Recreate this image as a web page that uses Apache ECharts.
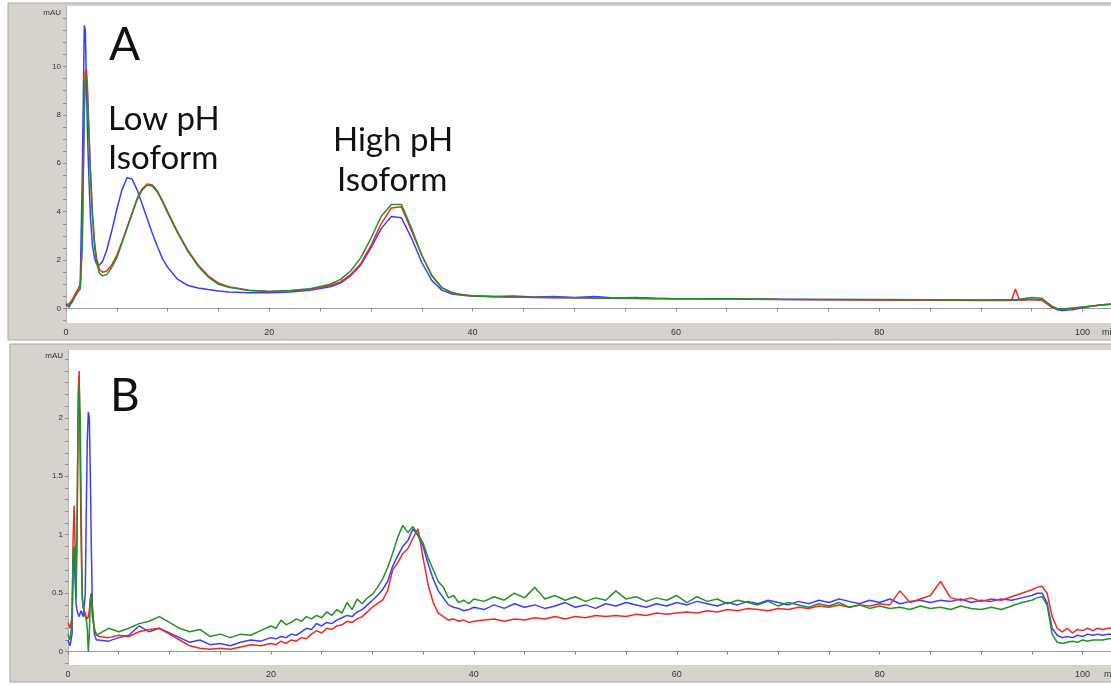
<!DOCTYPE html>
<html>
<head>
<meta charset="utf-8">
<script src="https://cdn.jsdelivr.net/npm/echarts@6/dist/echarts.min.js"></script>
<style>
  html, body { margin: 0; padding: 0; background: #fff; }
  #chart { width: 1111px; height: 685px; }
</style>
</head>
<body>
<div id="chart"></div>
<script>
// ---- panel A (retention time, min) ----
const timeA = [0, 0.3, 0.6, 0.9, 1.2, 1.4, 1.6, 1.8, 1.9, 2.0, 2.1, 2.2, 2.4, 2.6, 2.8, 3.0, 3.3, 3.6, 4.0, 4.5,
  5, 5.5, 6, 6.5, 7, 7.5, 8, 8.5, 9, 9.5, 10, 11, 12, 13, 14, 15, 16, 18, 20, 22,
  24, 26, 27, 28, 29, 30, 31, 32, 33, 34, 35, 36, 37, 38, 39, 40, 42, 44, 46, 48,
  50, 52, 54, 56, 58, 60, 65, 70, 75, 80, 85, 90, 92, 93, 93.4, 93.8, 95, 96, 96.5, 97,
  97.5, 98, 99, 100, 101, 102, 103];
const blueA = [0.2, 0.05, 0.3, 0.55, 0.8, 1.0, 5.5, 11.7, 11.5, 9.5, 7.5, 6.0, 3.8, 2.6, 2.1, 1.85, 1.8, 1.95, 2.4, 3.2,
  4.1, 4.9, 5.4, 5.35, 4.9, 4.3, 3.7, 3.1, 2.55, 2.05, 1.7, 1.2, 0.95, 0.85, 0.78, 0.72, 0.68, 0.65, 0.65, 0.68,
  0.75, 0.9, 1.05, 1.35, 1.8, 2.5, 3.3, 3.8, 3.75, 2.9, 1.9, 1.15, 0.75, 0.6, 0.55, 0.52, 0.5, 0.52, 0.47, 0.5,
  0.45, 0.5, 0.43, 0.45, 0.42, 0.4, 0.39, 0.38, 0.37, 0.36, 0.35, 0.34, 0.34, 0.34, 0.34, 0.35, 0.38, 0.35, 0.2, 0.05,
  -0.05, -0.08, -0.05, 0.03, 0.1, 0.15, 0.18];
const redA = [0.15, 0.2, 0.35, 0.6, 0.8, 0.9, 3.0, 8.5, 9.8, 9.9, 9.3, 8.0, 5.8, 4.0, 2.8, 2.1, 1.6, 1.5, 1.55, 1.8,
  2.2, 2.75, 3.35, 3.95, 4.55, 4.95, 5.15, 5.1, 4.85, 4.45, 4.0, 3.15, 2.4, 1.8, 1.35, 1.05, 0.9, 0.75, 0.7, 0.72,
  0.8, 0.95, 1.1, 1.4, 1.85, 2.6, 3.5, 4.15, 4.2, 3.2, 2.2, 1.35, 0.85, 0.65, 0.57, 0.53, 0.48, 0.47, 0.45, 0.44,
  0.44, 0.42, 0.42, 0.41, 0.4, 0.4, 0.39, 0.37, 0.36, 0.35, 0.34, 0.33, 0.33, 0.33, 0.8, 0.34, 0.37, 0.34, 0.2, 0.05,
  -0.02, -0.03, 0.0, 0.05, 0.1, 0.15, 0.18];
const greenA = [0.1, 0.15, 0.25, 0.5, 0.7, 0.8, 2.5, 8.0, 9.4, 9.6, 9.0, 7.8, 5.6, 3.8, 2.6, 1.9, 1.45, 1.35, 1.4, 1.7,
  2.1, 2.7, 3.3, 3.9, 4.5, 4.9, 5.1, 5.05, 4.8, 4.4, 3.95, 3.1, 2.35, 1.75, 1.3, 1.0, 0.88, 0.74, 0.7, 0.74,
  0.82, 1.0, 1.2, 1.55, 2.1, 2.9, 3.8, 4.3, 4.3, 3.3, 2.2, 1.35, 0.85, 0.65, 0.56, 0.52, 0.5, 0.46, 0.46, 0.45,
  0.44, 0.43, 0.42, 0.42, 0.41, 0.4, 0.4, 0.38, 0.37, 0.37, 0.36, 0.35, 0.36, 0.36, 0.36, 0.38, 0.45, 0.42, 0.25, 0.1,
  0.0, -0.02, 0.02, 0.06, 0.1, 0.15, 0.18];

// ---- panel B ----
const timeB = [0, 0.2, 0.4, 0.5, 0.6, 0.7, 0.8, 0.9, 1.0, 1.1, 1.2, 1.3, 1.4, 1.5, 1.6, 1.7, 1.8, 1.9, 2.0, 2.1,
  2.2, 2.3, 2.4, 2.6, 2.8, 3, 4, 5, 6, 7, 8, 9, 10, 11, 12, 13, 14, 15, 16, 17,
  18, 19, 20, 20.5, 21, 21.5, 22, 22.5, 23, 23.5, 24, 24.5, 25, 25.5, 26, 26.5, 27, 27.5, 28, 28.5,
  29, 29.5, 30, 30.5, 31, 31.5, 32, 32.5, 33, 33.5, 34, 34.5, 35, 35.5, 36, 36.5, 37, 37.5, 38, 38.5,
  39, 39.5, 40, 41, 42, 43, 44, 45, 46, 47, 48, 49, 50, 51, 52, 53, 54, 55, 56, 57,
  58, 59, 60, 61, 62, 63, 64, 65, 66, 67, 68, 69, 70, 71, 72, 73, 74, 75, 76, 77,
  78, 79, 80, 81, 82, 83, 84, 85, 86, 87, 88, 89, 90, 91, 92, 93, 94, 95, 95.5, 96,
  96.5, 97, 97.5, 98, 98.5, 99, 99.5, 100, 100.5, 101, 101.5, 102, 102.5, 103];
const blueB = [0.1, 0.05, 0.15, 0.75, 0.85, 0.6, 0.4, 0.35, 0.32, 0.3, 0.33, 0.35, 0.32, 0.3, 0.3, 0.5, 1.2, 1.8, 2.05, 2.0,
  1.5, 0.9, 0.4, 0.15, 0.1, 0.1, 0.09, 0.12, 0.14, 0.22, 0.17, 0.2, 0.16, 0.12, 0.08, 0.1, 0.06, 0.07, 0.05, 0.08,
  0.1, 0.09, 0.12, 0.11, 0.13, 0.12, 0.15, 0.14, 0.17, 0.2, 0.19, 0.24, 0.22, 0.25, 0.24, 0.27, 0.29, 0.31, 0.3, 0.34,
  0.36, 0.4, 0.44, 0.48, 0.53, 0.6, 0.73, 0.82, 0.9, 0.95, 1.05, 0.99, 0.9, 0.75, 0.62, 0.52, 0.46, 0.4, 0.38, 0.37,
  0.35, 0.36, 0.38, 0.36, 0.4, 0.37, 0.41, 0.38, 0.4, 0.37, 0.39, 0.42, 0.38, 0.4, 0.37, 0.41, 0.39, 0.42, 0.4, 0.38,
  0.41, 0.39, 0.42, 0.4, 0.43, 0.41, 0.39, 0.42, 0.4, 0.43, 0.41, 0.44, 0.42, 0.4, 0.43, 0.41, 0.44, 0.42, 0.45, 0.43,
  0.41, 0.44, 0.42, 0.45, 0.41, 0.43, 0.44, 0.42, 0.44, 0.43, 0.45, 0.42, 0.44, 0.43, 0.45, 0.44, 0.46, 0.48, 0.5, 0.5,
  0.42, 0.2, 0.14, 0.12, 0.13, 0.12, 0.14, 0.13, 0.15, 0.14, 0.15, 0.14, 0.15, 0.15];
const redB = [0.25, 0.2, 0.3, 0.95, 1.25, 0.9, 0.6, 1.0, 2.2, 2.4, 1.6, 0.9, 0.45, 0.38, 0.35, 0.33, 0.3, 0.28, 0.3, 0.35,
  0.45, 0.5, 0.35, 0.18, 0.15, 0.13, 0.12, 0.14, 0.13, 0.17, 0.19, 0.2, 0.15, 0.1, 0.05, 0.03, 0.02, 0.03, 0.02, 0.04,
  0.06, 0.05, 0.07, 0.06, 0.09, 0.07, 0.1, 0.09, 0.12, 0.11, 0.15, 0.18, 0.16, 0.2, 0.19, 0.22, 0.23, 0.26, 0.25, 0.28,
  0.3, 0.34, 0.38, 0.41, 0.44, 0.52, 0.7, 0.76, 0.84, 0.88, 0.97, 1.05, 0.8, 0.57, 0.42, 0.33, 0.3, 0.27, 0.28, 0.26,
  0.27, 0.25, 0.26, 0.27, 0.28, 0.26, 0.28, 0.27, 0.29, 0.28, 0.3, 0.28, 0.3, 0.29, 0.31, 0.3, 0.31, 0.3, 0.32, 0.31,
  0.33, 0.32, 0.33, 0.34, 0.33, 0.35, 0.34, 0.36, 0.35, 0.37, 0.36, 0.35, 0.37, 0.36, 0.38, 0.37, 0.39, 0.38, 0.4, 0.38,
  0.4, 0.39, 0.41, 0.4, 0.52, 0.42, 0.45, 0.48, 0.6, 0.46, 0.44, 0.46, 0.43, 0.45, 0.44, 0.47, 0.5, 0.53, 0.55, 0.56,
  0.5, 0.3, 0.2, 0.17, 0.2, 0.16, 0.19, 0.18, 0.2, 0.18, 0.2, 0.19, 0.2, 0.2];
const greenB = [0.15, 0.1, 0.25, 0.85, 0.9, 0.8, 0.45, 1.2, 2.0, 2.3, 2.0, 1.2, 0.5, 0.38, 0.33, 0.3, 0.28, 0.2, 0.0, 0.15,
  0.45, 0.5, 0.3, 0.2, 0.14, 0.15, 0.2, 0.17, 0.2, 0.24, 0.26, 0.3, 0.25, 0.2, 0.17, 0.19, 0.13, 0.15, 0.12, 0.15,
  0.14, 0.18, 0.22, 0.2, 0.27, 0.23, 0.25, 0.28, 0.26, 0.3, 0.28, 0.31, 0.29, 0.34, 0.31, 0.36, 0.33, 0.42, 0.36, 0.45,
  0.41, 0.46, 0.49, 0.55, 0.62, 0.72, 0.84, 0.98, 1.08, 1.02, 1.07, 1.0, 0.93, 0.8, 0.7, 0.6, 0.55, 0.46, 0.48, 0.42,
  0.44, 0.41, 0.45, 0.43, 0.47, 0.44, 0.5, 0.46, 0.55, 0.45, 0.48, 0.44, 0.47, 0.43, 0.46, 0.44, 0.52, 0.45, 0.47, 0.43,
  0.46, 0.44, 0.48, 0.42, 0.47, 0.43, 0.45, 0.41, 0.44, 0.42, 0.4, 0.43, 0.39, 0.42, 0.4, 0.38, 0.41, 0.39, 0.42, 0.38,
  0.4, 0.37, 0.39, 0.37, 0.38, 0.36, 0.39, 0.37, 0.38, 0.36, 0.39, 0.37, 0.36, 0.38, 0.36, 0.39, 0.42, 0.44, 0.46, 0.47,
  0.4, 0.15, 0.08, 0.07, 0.08, 0.09, 0.08, 0.1, 0.09, 0.1, 0.1, 0.1, 0.11, 0.11];

const xLabels = [0, 20, 40, 60, 80, 100];
const xTicks = [0, 5, 10, 15, 20, 25, 30, 35, 40, 45, 50, 55, 60, 65, 70, 75, 80, 85, 90, 95, 100];
const yLabelsA = [0, 2, 4, 6, 8, 10, 12.2];
const yLabelsB = [0, 0.5, 1, 1.5, 2, 2.53];

const blue = '#3d3dff';
const red = '#f02828';
const green = '#23902a';
const frame = '#d6d3ce';

function pairs(t, v) {
  return t.map((x, i) => [x, v[i]]);
}
function steps(from, to, step) {
  const out = [];
  for (let k = Math.round(from / step); k * step <= to + 1e-9; k++) out.push(+(k * step).toFixed(2));
  return out;
}

function xAxisFor(gridIndex) {
  return {
    type: 'value',
    gridIndex: gridIndex,
    min: 0,
    max: 102.8,
    axisLine: { show: true, lineStyle: { color: '#9a9a9a', width: 1 } },
    axisTick: { show: true, customValues: xTicks, length: 3, lineStyle: { color: '#8c8c8c' } },
    axisLabel: { customValues: xLabels, color: '#333', fontSize: 9, fontFamily: 'Liberation Sans', margin: 5 },
    splitLine: { show: false }
  };
}
function yAxisFor(gridIndex, min, max, labels, ticks, top) {
  return {
    type: 'value',
    gridIndex: gridIndex,
    min: min,
    max: max,
    axisLine: { show: true, lineStyle: { color: '#b0b0b0', width: 1 } },
    axisTick: { show: true, customValues: ticks, length: 3, lineStyle: { color: '#8c8c8c' } },
    axisLabel: {
      customValues: labels,
      color: '#333',
      fontSize: 8,
      fontFamily: 'Liberation Sans',
      margin: 5,
      formatter: v => (v >= top ? 'mAU' : String(v))
    },
    splitLine: { show: false }
  };
}

function trace(axis, t, v, color) {
  return {
    type: 'line', xAxisIndex: axis, yAxisIndex: axis, data: pairs(t, v), showSymbol: false,
    lineStyle: { color: color, width: 1.5 }
  };
}

const chart = echarts.init(document.getElementById('chart'));
chart.setOption({
  animation: false,
  backgroundColor: '#fff',
  grid: [
    { left: 66, top: 6, right: 0, bottom: 362, show: true, backgroundColor: '#fff', borderWidth: 0 },
    { left: 68, top: 350, right: 0, bottom: 20, show: true, backgroundColor: '#fff', borderWidth: 0 }
  ],
  xAxis: [xAxisFor(0), xAxisFor(1)],
  yAxis: [
    yAxisFor(0, -0.6, 12.5, yLabelsA, steps(-0.5, 12.2, 0.5), 12),
    yAxisFor(1, -0.114, 2.58, yLabelsB, steps(-0.1, 2.5, 0.1), 2.5)
  ],
  graphic: [
    { type: 'rect', z: -10, shape: { x: 8, y: 3, width: 1110, height: 337 },
      style: { fill: frame, stroke: '#a8a6a0', lineWidth: 1 } },
    { type: 'rect', z: -10, shape: { x: 10, y: 344, width: 1110, height: 338 },
      style: { fill: frame, stroke: '#a8a6a0', lineWidth: 1 } },
    { type: 'text', z: 50, style: { text: 'min', x: 1102, y: 333, fill: '#333',
      font: '9px "Liberation Sans"', textVerticalAlign: 'middle' } },
    { type: 'text', z: 50, style: { text: 'min', x: 1104, y: 675, fill: '#333',
      font: '9px "Liberation Sans"', textVerticalAlign: 'middle' } },
    { type: 'text', z: 50, style: { text: 'A', x: 109, y: 45, fill: '#111',
      font: '46px Lato', textVerticalAlign: 'middle' } },
    { type: 'text', z: 50, style: { text: 'B', x: 110, y: 396, fill: '#111',
      font: '46px Lato', textVerticalAlign: 'middle' } },
    { type: 'text', z: 50, style: { text: 'Low pH', x: 108, y: 119, fill: '#111',
      font: '33px Lato', textVerticalAlign: 'middle' } },
    { type: 'text', z: 50, style: { text: 'Isoform', x: 108, y: 158, fill: '#111',
      font: '33px Lato', textVerticalAlign: 'middle' } },
    { type: 'text', z: 50, style: { text: 'High pH', x: 333, y: 140, fill: '#111',
      font: '33px Lato', textVerticalAlign: 'middle' } },
    { type: 'text', z: 50, style: { text: 'Isoform', x: 337, y: 180, fill: '#111',
      font: '33px Lato', textVerticalAlign: 'middle' } }
  ],
  series: [
    trace(0, timeA, blueA, blue),
    trace(0, timeA, redA, red),
    trace(0, timeA, greenA, green),
    trace(1, timeB, blueB, blue),
    trace(1, timeB, redB, red),
    trace(1, timeB, greenB, green)
  ]
});
</script>
</body>
</html>
